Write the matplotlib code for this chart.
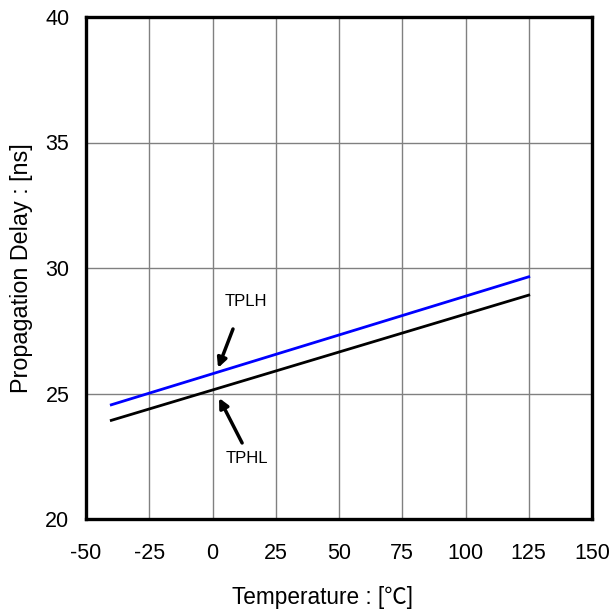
import matplotlib
matplotlib.use("Agg")
import matplotlib.pyplot as plt

plt.rcParams['font.family'] = ['Liberation Sans', 'Noto Sans CJK JP', 'DejaVu Sans']
plt.rcParams['axes.unicode_minus'] = False

temps = [-40, 125]
tplh = [24.55, 29.65]
tphl = [23.93, 28.92]
xticks = [-50, -25, 0, 25, 50, 75, 100, 125, 150]
yticks = [20, 25, 30, 35, 40]

fig = plt.figure(figsize=(6.14, 6.12), dpi=100)
ax = fig.add_axes([86/614, 1-519/612, 506/614, 502/612])

ax.plot(temps, tplh, color='#0000ff', lw=2)
ax.plot(temps, tphl, color='black', lw=2)

ax.set_xlim(-50, 150)
ax.set_ylim(20, 40)
ax.set_xticks(xticks)
ax.set_yticks(yticks)
ax.grid(True, color='#808080', lw=1)
ax.set_axisbelow(True)
for s in ax.spines.values():
    s.set_linewidth(2.4)
ax.tick_params(length=0, labelsize=15.5)
ax.tick_params(axis='x', pad=17)
ax.tick_params(axis='y', pad=12)

ax.set_xlabel('Temperature : [\u2103]', fontsize=16.3)
ax.xaxis.set_label_coords(0.468, -0.134)
ax.set_ylabel('Propagation Delay : [ns]', fontsize=16.8, labelpad=9)

ax.text(13.2, 28.65, 'TPLH', fontsize=12, ha='center', va='center')
ax.text(13.6, 22.4, 'TPHL', fontsize=12, ha='center', va='center')
ax.annotate('', xy=(2.2, 26.02), xytext=(8.1, 27.57),
            arrowprops=dict(arrowstyle='-|>', color='black', lw=2.5, mutation_scale=14, shrinkA=0, shrinkB=0))
ax.annotate('', xy=(2.6, 24.82), xytext=(11.7, 23.03),
            arrowprops=dict(arrowstyle='-|>', color='black', lw=2.5, mutation_scale=14, shrinkA=0, shrinkB=0))

fig.savefig('out.png', dpi=100)
